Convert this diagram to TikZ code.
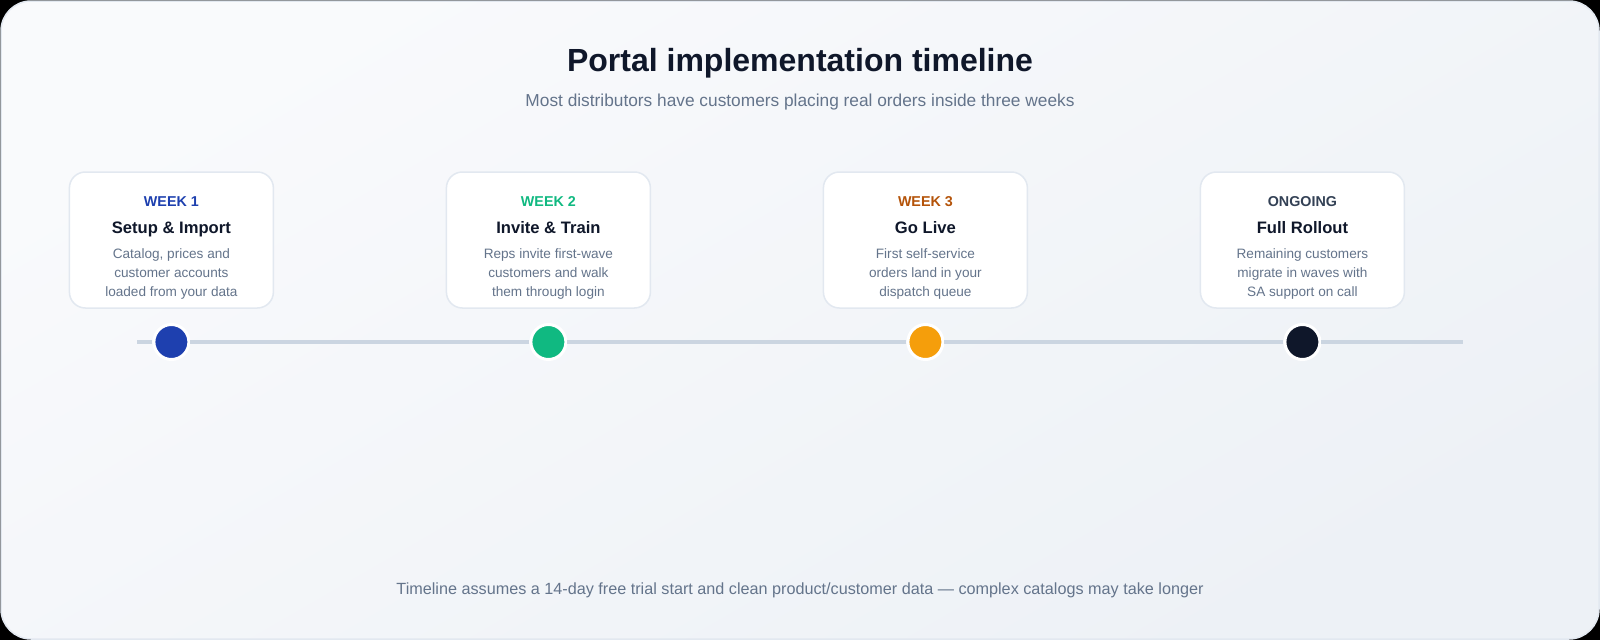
\documentclass[tikz,border=0pt]{standalone}
\usepackage{fontspec}
\setmainfont{Liberation Sans}

\definecolor{ink}{HTML}{0F172A}
\definecolor{muted}{HTML}{64748B}
\definecolor{frameline}{HTML}{E2E8F0}
\definecolor{cardline}{HTML}{E2E8F0}
\definecolor{trackline}{HTML}{CBD5E1}
\definecolor{bgtop}{HTML}{F9FAFC}
\definecolor{bgbottom}{HTML}{EDF1F6}
\definecolor{weekone}{HTML}{1E40AF}
\definecolor{weektwo}{HTML}{10B981}
\definecolor{weekthree}{HTML}{B45309}
\definecolor{dotthree}{HTML}{F59E0B}
\definecolor{ongoing}{HTML}{334155}

\begin{document}
\begin{tikzpicture}[x=1pt, y=-1pt,
	card/.style={draw=cardline, line width=1.5pt, fill=white, rounded corners=16pt,
		minimum width=204pt, minimum height=136pt, inner sep=0pt},
	phase/.style={font=\fontsize{14.3}{17}\selectfont\bfseries},
	heading/.style={font=\fontsize{16.6}{20}\selectfont\bfseries, text=ink, anchor=base},
	blurb/.style={font=\fontsize{13.6}{18.8}\selectfont, text=muted, align=center},
	marker/.style={circle, draw=white, line width=3pt, minimum size=35pt, inner sep=0pt},
	track/.style={draw=trackline, line width=4pt}]
	\useasboundingbox (0,0) rectangle (1600,640);
	\fill[black] (0,0) rectangle (1600,640);
	\shade[rounded corners=30pt, top color=bgtop, bottom color=bgbottom, shading angle=30]
		(1,1) rectangle (1599,639);
	\draw[frameline, line width=1.5pt, rounded corners=30pt] (1,1) rectangle (1599,639);

	\node[font=\fontsize{32}{38}\selectfont\bfseries, text=ink, anchor=base] (title) at (800,71.5)
		{Portal implementation timeline};
	\node[font=\fontsize{17.3}{20}\selectfont, text=muted, anchor=base] (subtitle) at (800,106)
		{Most distributors have customers placing real orders inside three weeks};

	\foreach \i/\wk/\wkcol/\dotcol/\head/\txt in {
		1/WEEK 1/weekone/weekone/Setup \& Import/{Catalog, prices and\\customer accounts\\loaded from your data},
		2/WEEK 2/weektwo/weektwo/Invite \& Train/{Reps invite first-wave\\customers and walk\\them through login},
		3/WEEK 3/weekthree/dotthree/Go Live/{First self-service\\orders land in your\\dispatch queue},
		4/ONGOING/ongoing/ink/Full Rollout/{Remaining customers\\migrate in waves with\\SA support on call}} {
		\pgfmathsetmacro\cx{171.4+377*(\i-1)}
		\node[card] (card\i) at (\cx,240) {};
		\node[phase, text=\wkcol] (week\i) at (\cx,202) {\wk};
		\node[heading] (head\i) at (\cx,233.4) {\head};
		\node[blurb] (blurb\i) at (\cx,274) {\txt};
		\node[marker, fill=\dotcol] (dot\i) at (\cx,342) {};
	}

	\coordinate (trackstart) at (137,342);
	\coordinate (trackend) at (1463,342);
	\draw[track] (trackstart) -- (dot1) -- (dot2) -- (dot3) -- (dot4) -- (trackend);

	\node[font=\fontsize{16.2}{19}\selectfont, text=muted, anchor=base] (footnote) at (800,594)
		{Timeline assumes a 14-day free trial start and clean product/customer data — complex catalogs may take longer};
\end{tikzpicture}
\end{document}
